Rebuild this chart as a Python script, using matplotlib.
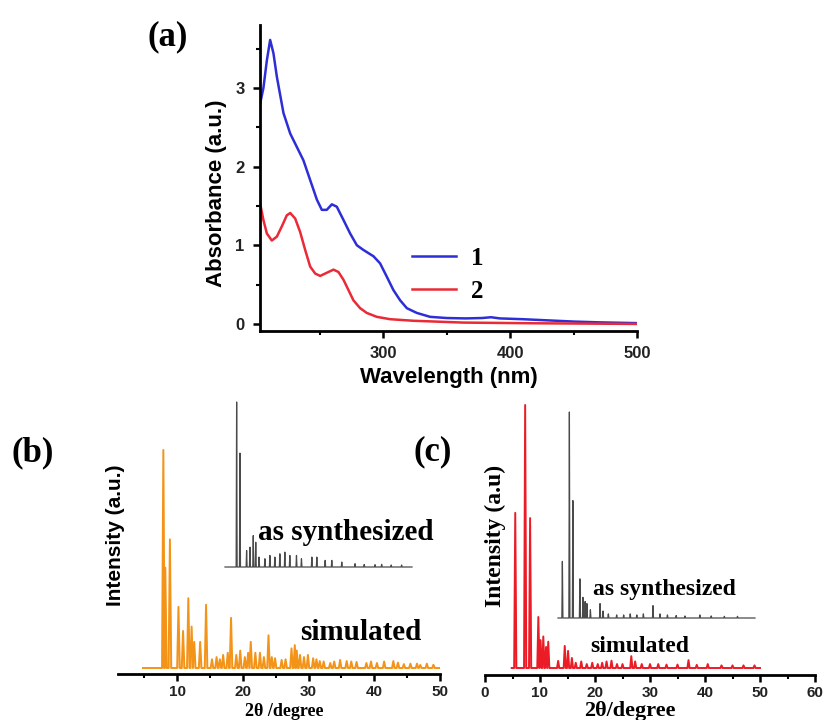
import matplotlib
matplotlib.use("Agg")
import matplotlib.pyplot as plt
from matplotlib.ticker import MultipleLocator

SANS = "Liberation Sans"
SERIF = "Liberation Serif"

# ---------------- data: (a) UV-vis ----------------
wl_1 = [203.1, 205.7, 208.4, 211.0, 213.6, 216.3, 221.5, 226.8, 232.0, 237.2, 242.5,
        247.8, 251.7, 255.6, 259.6, 263.5, 268.8, 274.0, 279.3, 284.5, 292.4, 297.6,
        302.9, 308.1, 313.4, 318.7, 326.5, 337.0, 350.0, 365.0, 378.0, 385.0, 392.0,
        410.0, 430.0, 450.0, 470.0, 500.0]
abs_1 = [2.80, 3.00, 3.35, 3.61, 3.44, 3.14, 2.68, 2.42, 2.25, 2.08, 1.83,
         1.58, 1.45, 1.45, 1.52, 1.49, 1.32, 1.15, 1.00, 0.94, 0.86, 0.77,
         0.60, 0.43, 0.30, 0.20, 0.14, 0.09, 0.075, 0.07, 0.075, 0.085, 0.07,
         0.06, 0.045, 0.03, 0.02, 0.01]
wl_2 = [203.1, 205.7, 208.4, 212.3, 216.3, 220.2, 224.1, 226.8, 230.7, 234.6, 238.6,
        242.5, 246.5, 250.4, 255.6, 260.9, 264.8, 268.8, 272.7, 276.6, 281.9, 287.1,
        295.0, 305.5, 323.9, 363.0, 420.0, 500.0]
abs_2 = [1.53, 1.32, 1.15, 1.06, 1.11, 1.24, 1.38, 1.41, 1.34, 1.17, 0.94,
         0.73, 0.64, 0.61, 0.65, 0.69, 0.66, 0.56, 0.43, 0.30, 0.20, 0.14,
         0.09, 0.06, 0.04, 0.017, 0.008, 0.0]
uv_labels = ["1", "2"]

# ---------------- data: (b) PXRD ----------------
b_sim_pos = [7.9, 8.2, 8.9, 10.2, 10.9, 11.7, 12.2, 12.6, 13.5, 14.4, 15.3, 16.0, 16.5,
             17.0, 17.7, 18.2, 19.0, 19.6, 20.3, 20.8, 21.2, 21.9, 22.6, 23.2, 23.9,
             24.4, 24.9, 25.9, 26.5, 27.4, 27.9, 28.2, 28.7, 29.3, 29.9, 30.7, 31.2,
             31.7, 32.3, 33.3, 33.9, 34.8, 35.8, 36.5, 37.3, 38.8, 39.5, 40.4, 41.5,
             42.9, 43.6, 44.5, 45.5, 46.5, 47.0, 48.0, 49.0]
b_sim_int = [100, 46, 59, 28, 17, 32, 19, 12, 12, 29, 4, 5, 4,
             6, 7, 23, 6, 8, 5, 7, 12, 7, 7, 5, 15,
             5, 4.5, 3.7, 4, 9, 10.5, 8, 6, 5, 6, 4.5, 4,
             3.2, 3, 2.3, 3, 3.7, 3.2, 3, 2.8, 2.3, 3, 2.3, 3,
             3.2, 2.5, 1.8, 2, 2, 1.4, 2, 1.5]
b_exp_pos = [7.8, 8.6, 10.2, 11.0, 11.8, 12.4, 13.2, 14.6, 15.8, 17.0, 18.2, 19.4,
             20.6, 22.2, 23.4, 25.9, 27.1, 29.1, 30.7, 33.1, 36.3, 38.5, 41.1, 42.7,
             45.0, 47.5]
b_exp_int = [100, 69, 10, 12, 19, 15, 6, 5, 7, 6, 8, 9,
             7, 7, 5, 6, 6, 4, 4, 3, 2, 1.5, 1.4, 1.6,
             1.2, 1.2]

# ---------------- data: (c) PXRD ----------------
c_sim_pos = [5.5, 7.3, 8.2, 9.7, 10.1, 10.6, 11.1, 11.5, 13.3, 14.5, 15.1, 15.8,
             16.5, 17.5, 18.5, 19.5, 20.5, 21.3, 22.1, 23.0, 24.0, 25.0, 26.6, 27.3,
             28.5, 30.0, 31.5, 33.0, 35.0, 37.0, 38.5, 40.5, 43.0, 45.0, 47.0, 49.0]
c_sim_int = [59, 100, 57, 19.4, 10.6, 12, 8, 10, 2.7, 8.4, 6.5, 3.8,
             2, 2.5, 1.5, 2, 1.5, 2, 2.5, 2.8, 1.5, 1.5, 4.5, 2.5,
             1.5, 1.5, 1.5, 1.3, 1.3, 3, 1.2, 1.5, 1, 1, 1, 1]
c_exp_pos = [6.0, 7.6, 8.4, 10.0, 10.7, 11.2, 11.6, 12.4, 14.6, 15.3, 16.5, 18.4,
             20.0, 21.5, 23.0, 24.5, 26.7, 28.3, 30.0, 32.0, 34.0, 37.4, 40.0, 43.0, 46.0]
c_exp_int = [27.5, 100, 57, 19, 10, 8, 7, 4, 7, 3.4, 2, 1.5,
             1.5, 2, 1.5, 2, 6, 2, 1.5, 1.2, 1, 1.5, 1, 0.8, 0.8]

W, H = 825, 720


def box(l, t, r, b):
    return [l / W, 1 - b / H, (r - l) / W, (b - t) / H]


def profile(pos, hts, x0, x1, w):
    xs, ys = [x0], [0.0]
    for p, h in zip(pos, hts):
        xs += [p - w, p, p + w]
        ys += [0.0, h, 0.0]
    xs.append(x1)
    ys.append(0.0)
    return xs, ys


def style_ticks(ax, size, color="#222222"):
    for lbl in ax.get_xticklabels() + ax.get_yticklabels():
        lbl.set_fontfamily(SANS)
        lbl.set_fontweight("bold")
        lbl.set_fontsize(size)
        lbl.set_color(color)


fig = plt.figure(figsize=(8.25, 7.2), dpi=100)

# ---------------- panel (a) ----------------
axa = fig.add_axes(box(260, 25, 637, 331))
l1, = axa.plot(wl_1, abs_1, color="#2e2ed6", lw=1.8)
l2, = axa.plot(wl_2, abs_2, color="#ea2a36", lw=1.8)
axa.set_xlim(203, 500)
axa.set_ylim(-0.09, 3.8)
axa.xaxis.set_major_locator(MultipleLocator(100))
axa.xaxis.set_minor_locator(MultipleLocator(50))
axa.yaxis.set_major_locator(MultipleLocator(1))
axa.yaxis.set_minor_locator(MultipleLocator(0.5))
for s in ["top", "right"]:
    axa.spines[s].set_visible(False)
for s in ["left", "bottom"]:
    axa.spines[s].set_linewidth(2)
axa.tick_params(which="major", direction="out", length=5, width=1.8, pad=6)
axa.tick_params(which="minor", direction="out", length=3, width=1.5)
axa.set_xticks([300, 400, 500])
style_ticks(axa, 12)
axa.set_xlabel("Wavelength (nm)", fontfamily=SANS, fontweight="bold", fontsize=16, labelpad=4)
leg = axa.legend([l1, l2], uv_labels, loc="upper left",
                 bbox_to_anchor=(412 / W, 1 - 247 / H), bbox_transform=fig.transFigure,
                 frameon=False, prop={"family": SERIF, "weight": "bold", "size": 18},
                 handlelength=1.75, handletextpad=0.6, labelspacing=0.38,
                 borderpad=0, borderaxespad=0)
fig.text(217 / W, 1 - 193 / H, "Absorbance (a.u.)", rotation=90, ha="center", va="center",
         fontfamily=SANS, fontweight="bold", fontsize=16)
fig.text(168 / W, 1 - 37 / H, "(a)", ha="center", va="center",
         fontfamily=SERIF, fontweight="bold", fontsize=25)

# ---------------- panel (b) ----------------
axb = fig.add_axes(box(118, 400, 440, 674))
xs, ys = profile(b_sim_pos, b_sim_int, 4.8, 50, 0.2)
axb.fill_between(xs, ys, 0, color="#f9c27a", lw=0, alpha=0.6)
axb.plot(xs, ys, color="#f39419", lw=1.4)
axb.set_xlim(1, 50)
axb.set_ylim(-2.75, 122.9)
for s in ["top", "right", "left"]:
    axb.spines[s].set_visible(False)
axb.spines["bottom"].set_linewidth(2)
axb.set_yticks([])
axb.xaxis.set_major_locator(MultipleLocator(10))
axb.xaxis.set_minor_locator(MultipleLocator(5))
axb.set_xticks([10, 20, 30, 40, 50])
axb.tick_params(which="major", direction="out", length=5, width=1.8, pad=3)
axb.tick_params(which="minor", direction="out", length=3, width=1.5)
style_ticks(axb, 11)
axb.set_xlabel("2θ /degree", fontfamily=SERIF, fontweight="bold", fontsize=13)
axb.xaxis.set_label_coords((284 - 118) / 322, (674 - 703) / 274)

axbi = fig.add_axes(box(225, 402, 412, 567))
xs, ys = profile(b_exp_pos, b_exp_int, 5, 50, 0.12)
axbi.plot(xs, ys, color="#4a4a4a", lw=0.9, clip_on=False)
axbi.set_xlim(5, 50)
axbi.set_ylim(0, 100)
axbi.axis("off")

fig.text(258 / W, 1 - 540 / H, "as synthesized", ha="left", va="baseline",
         fontfamily=SERIF, fontweight="bold", fontsize=21)
fig.text(300 / W, 1 - 640 / H, "simulated", ha="left", va="baseline",
         fontfamily=SERIF, fontweight="bold", fontsize=21)
fig.text(115 / W, 1 - 535 / H, "Intensity (a.u.)", rotation=90, ha="center", va="center",
         fontfamily=SANS, fontweight="bold", fontsize=15)
fig.text(33 / W, 1 - 453 / H, "(b)", ha="center", va="center",
         fontfamily=SERIF, fontweight="bold", fontsize=25)

# ---------------- panel (c) ----------------
axc = fig.add_axes(box(485, 400, 815, 675))
xs, ys = profile(c_sim_pos, c_sim_int, 4.85, 50, 0.2)
axc.fill_between(xs, ys, 0, color="#f47a80", lw=0, alpha=0.6)
axc.plot(xs, ys, color="#ec1c26", lw=1.4)
axc.set_xlim(0, 60)
axc.set_ylim(-2.66, 101.9)
for s in ["top", "right", "left"]:
    axc.spines[s].set_visible(False)
axc.spines["bottom"].set_linewidth(2)
axc.set_yticks([])
axc.xaxis.set_major_locator(MultipleLocator(10))
axc.xaxis.set_minor_locator(MultipleLocator(5))
axc.set_xticks([0, 10, 20, 30, 40, 50, 60])
axc.tick_params(which="major", direction="out", length=5, width=1.8, pad=3)
axc.tick_params(which="minor", direction="out", length=3, width=1.5)
style_ticks(axc, 11)
axc.set_xlabel("2θ/degree", fontfamily=SERIF, fontweight="bold", fontsize=16)
axc.xaxis.set_label_coords((630 - 485) / 330, (675 - 701) / 275)

axci = fig.add_axes(box(558, 412, 755, 618))
xs, ys = profile(c_exp_pos, c_exp_int, 5, 50, 0.12)
axci.plot(xs, ys, color="#4a4a4a", lw=0.9, clip_on=False)
axci.set_xlim(5, 50)
axci.set_ylim(0, 100)
axci.axis("off")

fig.text(593 / W, 1 - 595 / H, "as synthesized", ha="left", va="baseline",
         fontfamily=SERIF, fontweight="bold", fontsize=17)
fig.text(590 / W, 1 - 652 / H, "simulated", ha="left", va="baseline",
         fontfamily=SERIF, fontweight="bold", fontsize=17)
fig.text(495 / W, 1 - 536 / H, "Intensity (a.u)", rotation=90, ha="center", va="center",
         fontfamily=SERIF, fontweight="bold", fontsize=17)
fig.text(433 / W, 1 - 452 / H, "(c)", ha="center", va="center",
         fontfamily=SERIF, fontweight="bold", fontsize=25)

fig.savefig("out.png", dpi=100, facecolor="white")
